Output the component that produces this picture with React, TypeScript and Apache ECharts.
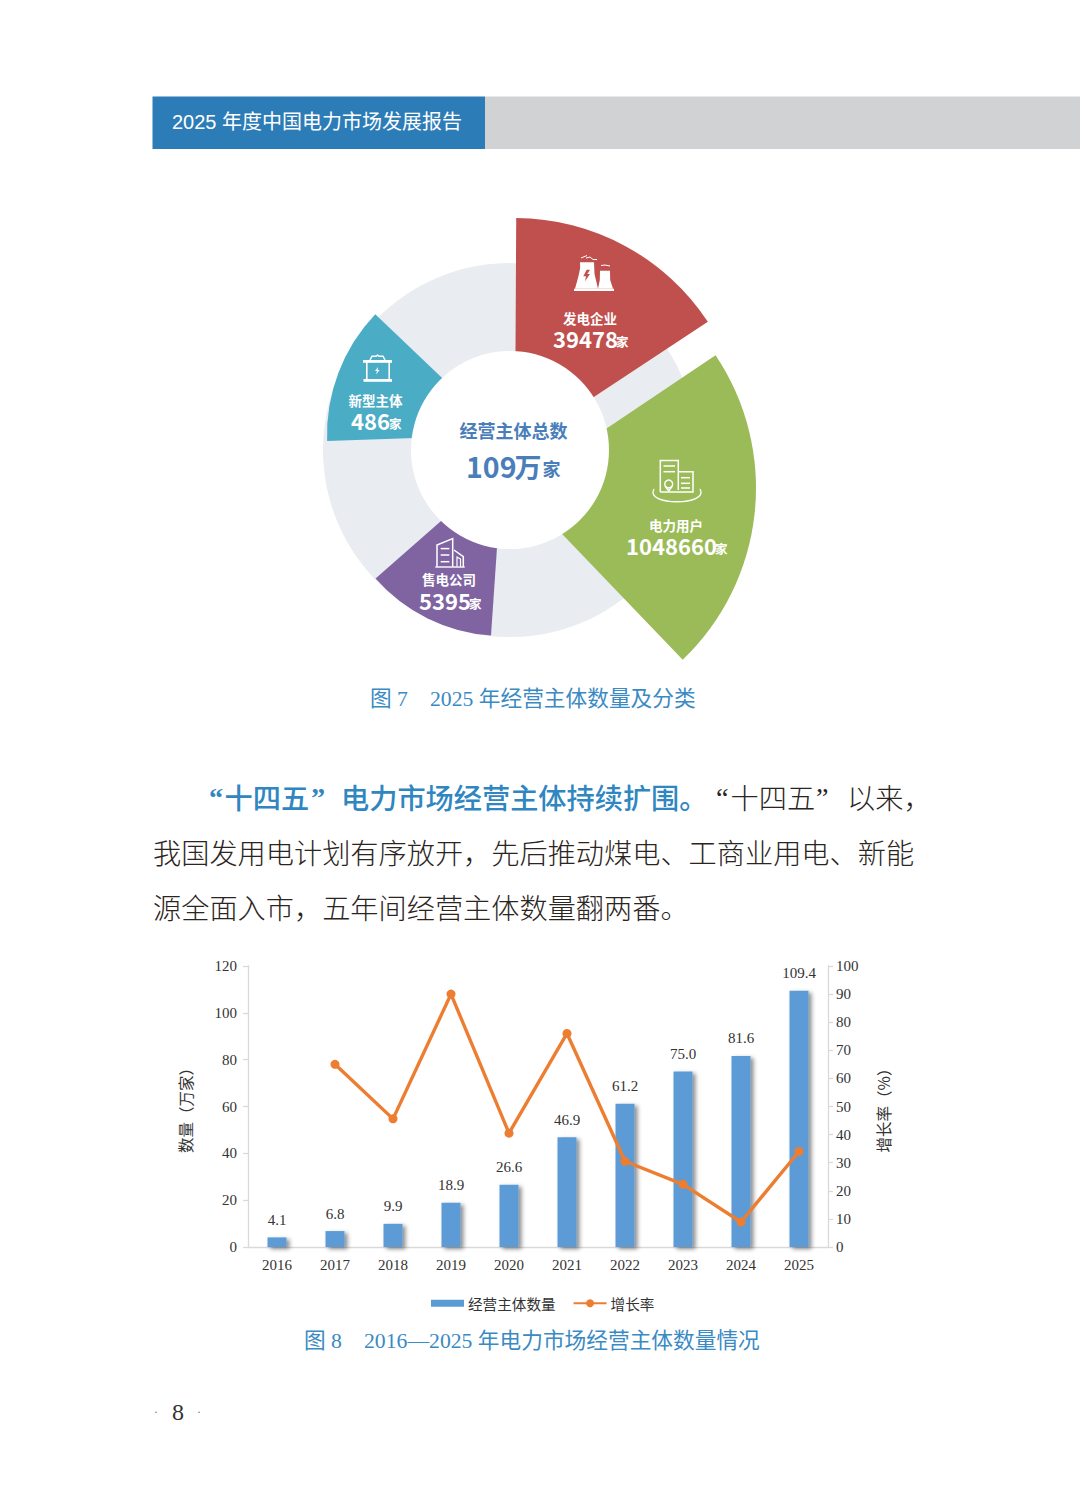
import React, { useEffect, useRef } from "react";
import * as echarts from "echarts";

const categories = ["2016", "2017", "2018", "2019", "2020", "2021", "2022", "2023", "2024", "2025"];
const entityCounts = [4.1, 6.8, 9.9, 18.9, 26.6, 46.9, 61.2, 75.0, 81.6, 109.4];
const growthRates = [null, 65, 45.6, 90, 40.5, 76, 30.5, 22.3, 8.9, 34];
const leftTicksMax = 120;
const rightTicksMax = 100;
const sectorNames = ["发电企业", "电力用户", "售电公司", "新型主体"];
const sectorValues = ["39478", "1048660", "5395", "486"];
const sectorSweepDegrees = [56.3, 80.1, 44.8, 45.6];

const SERIF = '"Liberation Serif", "Noto Sans CJK SC"';
const SANS = '"Noto Sans CJK SC"';
const BLUE = "#3a8ac4";
const INK = "#2b2522";

const sectorLayout = [
  { center: [515, 449], r: 231, start: 0.3, color: "#c0504d" },
  { center: [518, 488], r: 238, start: 56.1, color: "#9bbb59" },
  { center: [502.5, 467], r: 169, start: 183.9, color: "#8064a2" },
  { center: [502, 435], r: 175, start: 268, color: "#4bacc6" },
];

const text = (t: string, x: number, y: number, size: number, fill: string, family = SANS, weight: any = 400, align = "left") => ({
  type: "text",
  z: 100,
  x,
  y,
  style: { text: t, fontSize: size, fontFamily: family, fontWeight: weight, fill, align, verticalAlign: "middle" },
});
const poly = (pts: number[][], fill = "#fff") => ({ type: "polygon", z: 100, shape: { points: pts }, style: { fill } });
const pl = (pts: number[][], w = 1.4) => ({ type: "polyline", z: 100, shape: { points: pts }, style: { stroke: "#fff", lineWidth: w, fill: null } });
const box = (x: number, y: number, width: number, height: number, fill: string, z = 100) => ({ type: "rect", z, shape: { x, y, width, height }, style: { fill } });

const sectorLabels = [
  { nameX: 590, nameY: 318, numX: 553, numY: 338, unitX: 616 },
  { nameX: 676, nameY: 525, numX: 626, numY: 545, unitX: 715 },
  { nameX: 449, nameY: 579, numX: 419, numY: 600, unitX: 469 },
  { nameX: 375.5, nameY: 400, numX: 351, numY: 420, unitX: 389 },
];

const icons = [
  // power plant
  poly([[580, 262.3], [594, 262.3], [594.5, 274], [598, 288.7], [575, 288.7], [578.5, 276], [580.2, 268]]),
  poly([[600, 270.7], [610, 270.7], [610.2, 280], [613, 288.7], [598, 288.7], [599.8, 280]]),
  box(574, 288.7, 40, 2.3, "#fff"),
  poly([[586.7, 269.7], [583.3, 276.3], [586, 276.3], [585, 281.3], [590, 274], [587.3, 274], [590, 269.7]], "#c0504d"),
  pl([[581, 258], [587, 255.5]], 1),
  pl([[586, 258], [590, 257], [593, 259.5], [597, 259.5]], 1),
  pl([[601, 265.5], [605, 265], [610, 266]], 1),
  // battery
  box(363, 360, 29, 2.8, "#fff"),
  box(363.5, 379, 28.5, 2.8, "#fff"),
  box(366, 362, 1.6, 18, "#fff"),
  box(388.4, 362, 1.6, 18, "#fff"),
  pl([[370, 360], [372, 356.2], [376, 356.2], [377.5, 355.2], [379, 356.2], [383, 356.2], [385, 360]], 1.5),
  poly([[378, 367], [375, 371], [377, 371], [376, 374.5], [379.6, 370], [377.6, 370]]),
  // customer buildings
  pl([[678.3, 490], [678.3, 460.5], [660.3, 460.5], [660.3, 492]], 1.5),
  pl([[678.3, 471.7], [693, 471.7], [693, 492], [660.3, 492]], 1.5),
  pl([[663.5, 466], [675, 466]], 1.5),
  pl([[663.5, 471.7], [675, 471.7]], 1.5),
  pl([[681, 477.7], [690, 477.7]], 1.5),
  pl([[681, 483.3], [690, 483.3]], 1.5),
  pl([[681, 488], [690, 488]], 1.5),
  { type: "circle", z: 100, shape: { cx: 668.7, cy: 484, r: 4 }, style: { stroke: "#fff", lineWidth: 1.4, fill: null } },
  pl([[665, 486], [668.7, 491], [672.4, 486]], 1.4),
  { type: "bezierCurve", z: 100, shape: { x1: 654, y1: 489, x2: 700, y2: 489, cpx1: 644, cpy1: 506, cpx2: 710, cpy2: 506 }, style: { stroke: "#fff", lineWidth: 1.4, fill: null } },
  // retail building
  pl([[452.7, 566.5], [452.7, 538.5], [437, 545], [437, 566.5]], 1.5),
  pl([[440.7, 548.6], [449.3, 548.6]], 1.5),
  pl([[440.7, 555], [449.3, 555]], 1.5),
  pl([[440.7, 561.7], [449.3, 561.7]], 1.5),
  pl([[454, 550], [463.3, 556.7], [463.3, 566.7]], 1.5),
  pl([[457, 566.5], [457, 557], [460.5, 559], [460.5, 566.5]], 1.2),
  pl([[435.3, 567], [464.7, 567]], 1.4),
];

const graphics = [
  box(152.5, 96.5, 332.5, 52.5, "#2c7cb8"),
  box(485, 96.5, 595, 52.5, "#d0d2d3"),
  text("2025 年度中国电力市场发展报告", 172, 122, 20, "#fff", '"Liberation Sans", "Noto Sans CJK SC"', 400),

  text("经营主体总数", 513.5, 430, 18, "#4a7ebb", SANS, 700, "center"),
  text("109", 466, 465, 28.5, "#4a7ebb", SANS, 700),
  text("万", 514.5, 466, 27, "#4a7ebb", SANS, 700),
  text("家", 542.5, 468, 18, "#4a7ebb", SANS, 700),

  ...sectorNames.flatMap((n, i) => {
    const l = sectorLabels[i];
    return [
      text(n, l.nameX, l.nameY, 13.5, "#fff", SANS, 700, "center"),
      text(sectorValues[i], l.numX, l.numY, 22, "#fff", SANS, 700),
      text("家", l.unitX, l.numY + 3, 12.5, "#fff", SANS, 700),
    ];
  }),
  ...icons,

  text("图 7", 370, 699, 21.7, BLUE, SERIF),
  text("2025 年经营主体数量及分类", 430, 699, 21.7, BLUE, SERIF),

  text("“", 209, 797, 28.2, "#2f86c0", SERIF, 700),
  text("十四五", 224.5, 796, 28.2, "#2f86c0", SANS, 500),
  text("”", 311, 797, 28.2, "#2f86c0", SERIF, 700),
  text("电力市场经营主体持续扩围。", 341, 796, 28.2, "#2f86c0", SANS, 500),
  text("“", 716, 797, 28.2, INK, SERIF),
  text("十四五", 730.5, 796, 28.2, INK, SANS, 300),
  text("”", 816, 797, 28.2, INK, SERIF),
  text("以来，", 847, 796, 28.2, INK, SANS, 300),
  text("我国发用电计划有序放开，先后推动煤电、工商业用电、新能", 153, 851, 28.2, INK, SANS, 300),
  text("源全面入市，五年间经营主体数量翻两番。", 153, 906, 28.2, INK, SANS, 300),

  text("图 8", 304, 1341, 21.7, BLUE, SERIF),
  text("2016—2025 年电力市场经营主体数量情况", 364, 1341, 21.7, BLUE, SERIF),

  text("·", 156, 1411, 13, "#4a90c8", SERIF, 400, "center"),
  text("8", 178, 1412, 24, "#333", SERIF, 400, "center"),
  text("·", 199, 1411, 13, "#4a90c8", SERIF, 400, "center"),
];

const axisLine = { show: true, lineStyle: { color: "#d9d9d9", width: 1.3 } };
const axisTick = { show: true, length: 5, lineStyle: { color: "#d9d9d9", width: 1.3 } };

const pieBase = { type: "pie", silent: true, clockwise: true, animation: false, label: { show: false }, labelLine: { show: false }, emphasis: { disabled: true } };

const option: any = {
  animation: false,
  backgroundColor: "#fff",
  graphic: graphics,
  legend: {
    left: 426,
    top: 1291,
    itemWidth: 33,
    itemHeight: 10,
    itemGap: 17,
    textStyle: { fontFamily: SANS, fontSize: 14.6, color: "#333", padding: [0, 0, 0, -1] },
    data: [
      { name: "经营主体数量", icon: "path://M0 0H33V7H0Z" },
      { name: "增长率" },
    ],
  },
  grid: { left: 248, width: 580, top: 966, height: 281, containLabel: false },
  xAxis: {
    type: "category",
    data: categories,
    axisLine,
    axisTick: { show: false },
    axisLabel: { fontFamily: SERIF, fontSize: 15, color: "#333", margin: 10 },
  },
  yAxis: [
    {
      type: "value",
      min: 0,
      max: leftTicksMax,
      interval: 20,
      name: "数量（万家）",
      nameLocation: "middle",
      nameRotate: 90,
      nameGap: 55,
      nameTextStyle: { fontFamily: SANS, fontSize: 15.5, color: "#333" },
      axisLine,
      axisTick,
      splitLine: { show: false },
      axisLabel: { fontFamily: SERIF, fontSize: 15, color: "#333", margin: 11 },
    },
    {
      type: "value",
      min: 0,
      max: rightTicksMax,
      interval: 10,
      name: "增长率（%）",
      nameLocation: "middle",
      nameRotate: 90,
      nameGap: 47,
      nameTextStyle: { fontFamily: SANS, fontSize: 15.5, color: "#333" },
      axisLine,
      axisTick,
      splitLine: { show: false },
      axisLabel: { fontFamily: SERIF, fontSize: 15, color: "#333", margin: 8 },
    },
  ],
  series: [
    { ...pieBase, center: [510, 450], radius: [0, 187], data: [{ value: 1, name: "背景", itemStyle: { color: "#e9edf1" } }] },
    ...sectorLayout.map((s, i) => ({
      ...pieBase,
      center: s.center,
      radius: [0, s.r],
      startAngle: 90 - s.start,
      data: [
        { value: sectorSweepDegrees[i], name: sectorNames[i], itemStyle: { color: s.color } },
        { value: 360 - sectorSweepDegrees[i], name: "其余" + i, itemStyle: { color: "transparent" } },
      ],
    })),
    { ...pieBase, center: [510, 450], radius: [0, 99], data: [{ value: 1, name: "中心", itemStyle: { color: "#fff" } }] },
    {
      type: "bar",
      name: "经营主体数量",
      data: entityCounts,
      barWidth: 19,
      itemStyle: { color: "#5b9bd5", shadowColor: "rgba(0,0,0,0.45)", shadowBlur: 4, shadowOffsetX: 3, shadowOffsetY: 2 },
      label: {
        show: true,
        position: "top",
        distance: 10,
        fontFamily: SERIF,
        fontSize: 15,
        color: "#333",
        formatter: (p: any) => p.value.toFixed(1),
      },
    },
    {
      type: "line",
      name: "增长率",
      yAxisIndex: 1,
      data: growthRates,
      symbol: "circle",
      symbolSize: 9,
      connectNulls: false,
      lineStyle: { color: "#ed7d31", width: 3.4 },
      itemStyle: { color: "#ed7d31" },
    },
  ],
};

export default function App() {
  const ref = useRef<HTMLDivElement>(null);
  useEffect(() => {
    document.body.style.margin = "0";
    const chart = echarts.init(ref.current!, undefined, { renderer: "svg" });
    chart.setOption(option);
    return () => chart.dispose();
  }, []);
  return <div ref={ref} style={{ width: 1080, height: 1504 }} />;
}
